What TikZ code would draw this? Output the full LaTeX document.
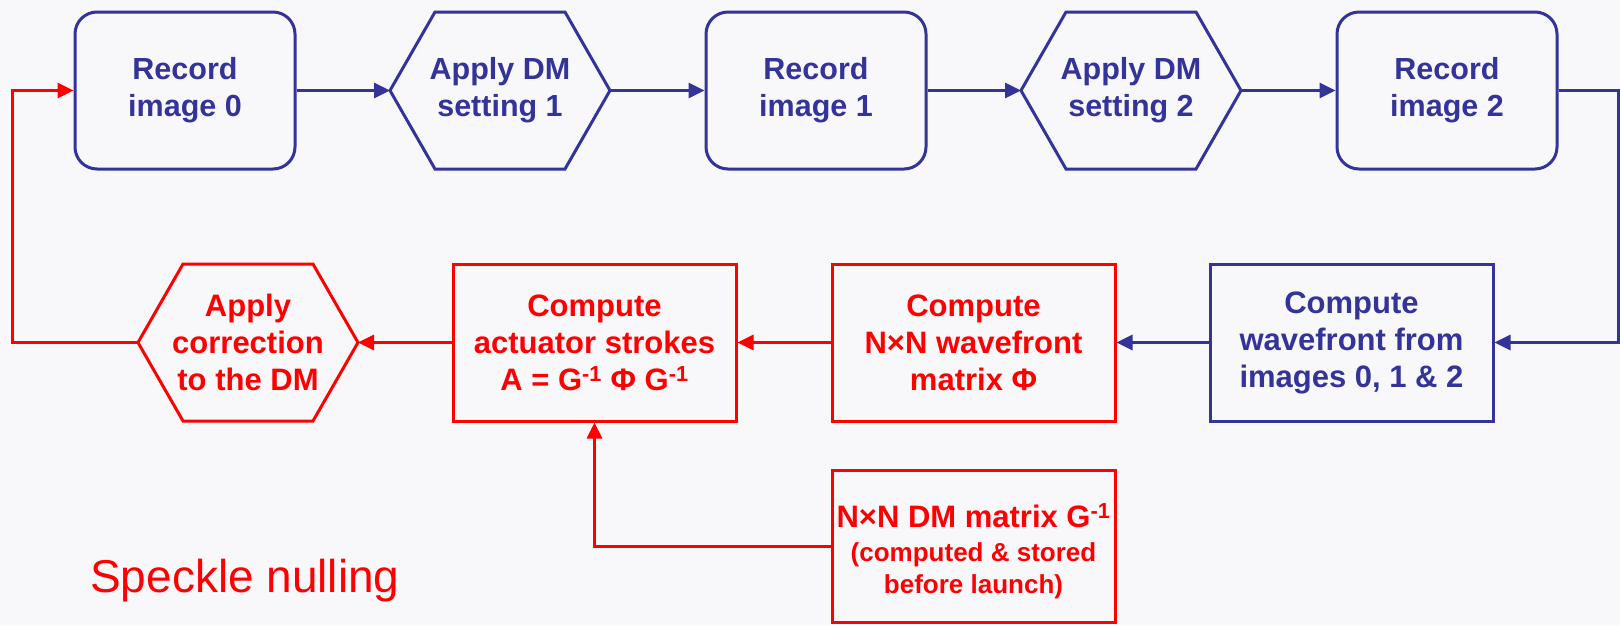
\documentclass[tikz,border=0pt]{standalone}
\usepackage{fontspec}
\setmainfont{Liberation Sans}
\usetikzlibrary{arrows.meta,calc}
\definecolor{dblue}{RGB}{51,51,153}
\definecolor{sred}{RGB}{255,0,0}
\definecolor{bgc}{RGB}{248,248,251}
\begin{document}
\begin{tikzpicture}[x=1pt,y=-1pt,
  every node/.style={inner sep=0pt, align=center, font=\fontsize{30.5pt}{37pt}\selectfont\bfseries},
  recbox/.style={draw=dblue, text=dblue, line width=3pt, rounded corners=22pt, minimum width=220pt, minimum height=157pt},
  hexbox/.style={text=#1, minimum width=220pt, minimum height=157pt, outer sep=0pt},
  sqbox/.style={draw=#1, text=#1, line width=3pt, minimum width=283pt, minimum height=157pt},
  hexline/.style={draw=#1, line width=3pt, line join=miter},
  conn/.style={draw=#1, line width=3pt, -{Triangle[length=16pt,width=15pt]}},
]
\useasboundingbox (0,0) rectangle (1620,625);
\fill[bgc] (0,0) rectangle (1620,625);

% top row
\node[recbox] (R0) at (185,90.5) {Record\\image 0};
\node[hexbox=dblue] (H1) at (500,90.5) {Apply DM\\setting 1};
\node[recbox] (R1) at (816,90.5) {Record\\image 1};
\node[hexbox=dblue] (H2) at (1131,90.5) {Apply DM\\setting 2};
\node[recbox] (R2) at (1447,90.5) {Record\\image 2};

% bottom row
\node[hexbox=sred, font=\fontsize{31pt}{37pt}\selectfont\bfseries] (H3) at (248,342.5) {Apply\\correction\\to the DM};
\node[sqbox=sred, font=\fontsize{31pt}{37pt}\selectfont\bfseries] (ACT) at (594.5,342.5) {Compute\\actuator strokes\\A = G\textsuperscript{-1} Φ G\textsuperscript{-1}};
\node[sqbox=sred, font=\fontsize{31pt}{37pt}\selectfont\bfseries] (NXN) at (973.5,342.5) {Compute\\N×N wavefront\\matrix Φ};
\node[sqbox=dblue, font=\fontsize{31pt}{37pt}\selectfont\bfseries] (WF) at (1351.5,342.5) {Compute\\wavefront from\\images 0, 1 \& 2};

% G box and its text
\node[sqbox=sred, minimum height=152pt] (G) at (973.5,546) {};
\node[text=sred, font=\fontsize{26pt}{32pt}\selectfont\bfseries] (GT) at (973.5,551)
  {{\fontsize{31pt}{34pt}\selectfont N×N DM matrix G\textsuperscript{-1}}\\[2pt]
   (computed \& stored\\before launch)};

% title
\node[anchor=base west, text=sred, font=\fontsize{46pt}{50pt}\selectfont] (T) at (90,592) {Speckle nulling};

% hexagon outlines
\draw[hexline=dblue] (H1.west) -- ([xshift=45pt]H1.north west) -- ([xshift=-45pt]H1.north east) -- (H1.east) -- ([xshift=-45pt]H1.south east) -- ([xshift=45pt]H1.south west) -- cycle;
\draw[hexline=dblue] (H2.west) -- ([xshift=45pt]H2.north west) -- ([xshift=-45pt]H2.north east) -- (H2.east) -- ([xshift=-45pt]H2.south east) -- ([xshift=45pt]H2.south west) -- cycle;
\draw[hexline=sred] (H3.west) -- ([xshift=45pt]H3.north west) -- ([xshift=-45pt]H3.north east) -- (H3.east) -- ([xshift=-45pt]H3.south east) -- ([xshift=45pt]H3.south west) -- cycle;

% helper coordinates
\coordinate (RT) at (1618,0);
\coordinate (LT) at (12,0);

% connectors
\draw[conn=dblue] (R0.east) -- (H1.west);
\draw[conn=dblue] (H1.east) -- (R1.west);
\draw[conn=dblue] (R1.east) -- (H2.west);
\draw[conn=dblue] (H2.east) -- (R2.west);
\draw[conn=dblue] (R2.east) -- (R2.east -| RT) |- (WF.east);
\draw[conn=dblue] (WF.west) -- (NXN.east);
\draw[conn=sred] (NXN.west) -- (ACT.east);
\draw[conn=sred] (ACT.west) -- (H3.east);
\draw[conn=sred] (H3.west) -- (H3.west -| LT) |- (R0.west);
\draw[conn=sred] (G.west) -| (ACT.south);
\end{tikzpicture}
\end{document}
